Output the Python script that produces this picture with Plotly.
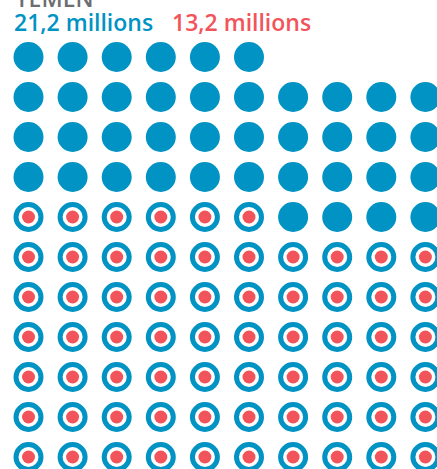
import plotly.graph_objects as go

# Data
country = "YEMEN"
total_millions = 21.2        # people in need (blue)
affected_millions = 13.2     # subset (red)
unit_millions = 0.2          # one circle = 0.2 million
labels = ["21,2 millions", "13,2 millions"]

n_cols = 10
n_rows = 11

BLUE = "#0093C4"
RED = "#F1555B"
GRAY = "#6D6E70"

n_total = int(round(total_millions / unit_millions))
n_red = int(round(affected_millions / unit_millions))

# fill from the bottom row upward, left to right
red_x, red_y, blue_x, blue_y = [], [], [], []
for k in range(n_total):
    r = (n_rows - 1) - k // n_cols
    c = k % n_cols
    if k < n_red:
        red_x.append(c); red_y.append(r)
    else:
        blue_x.append(c); blue_y.append(r)

W, H = 437, 469
x0, dx = 28.5, 44.1
y0, dy = 57.0, 40.0

fig = go.Figure()
fig.add_trace(go.Scatter(x=blue_x, y=blue_y, mode="markers",
                         marker=dict(size=30, color=BLUE, line=dict(width=0)),
                         hoverinfo="skip"))
fig.add_trace(go.Scatter(x=red_x, y=red_y, mode="markers",
                         marker=dict(size=25, color="white", line=dict(width=5, color=BLUE)),
                         hoverinfo="skip"))
fig.add_trace(go.Scatter(x=red_x, y=red_y, mode="markers",
                         marker=dict(size=13, color=RED, line=dict(width=0)),
                         hoverinfo="skip"))

font = "'Open Sans', Lato, sans-serif"
fig.add_annotation(x=13 / W, y=1 - (-1.5) / H, xref="paper", yref="paper",
                   xanchor="left", yanchor="middle", showarrow=False,
                   text=country, font=dict(family=font, size=23, color=GRAY, weight=600))
fig.add_annotation(x=12 / W, y=1 - 22 / H, xref="paper", yref="paper",
                   xanchor="left", yanchor="middle", showarrow=False,
                   text=labels[0], font=dict(family=font, size=23, color=BLUE, weight=600))
fig.add_annotation(x=170 / W, y=1 - 22 / H, xref="paper", yref="paper",
                   xanchor="left", yanchor="middle", showarrow=False,
                   text=labels[1], font=dict(family=font, size=23, color=RED, weight=600))

fig.update_layout(
    width=W, height=H,
    margin=dict(l=0, r=0, t=0, b=0),
    paper_bgcolor="white", plot_bgcolor="white",
    showlegend=False,
    xaxis=dict(range=[-x0 / dx, (W - x0) / dx], visible=False, fixedrange=True),
    yaxis=dict(range=[(H - y0) / dy, -y0 / dy], visible=False, fixedrange=True),
)
fig.write_html("out.html", config={"displayModeBar": False},
               post_script="document.body.style.margin='0';document.body.style.overflow='hidden';")
